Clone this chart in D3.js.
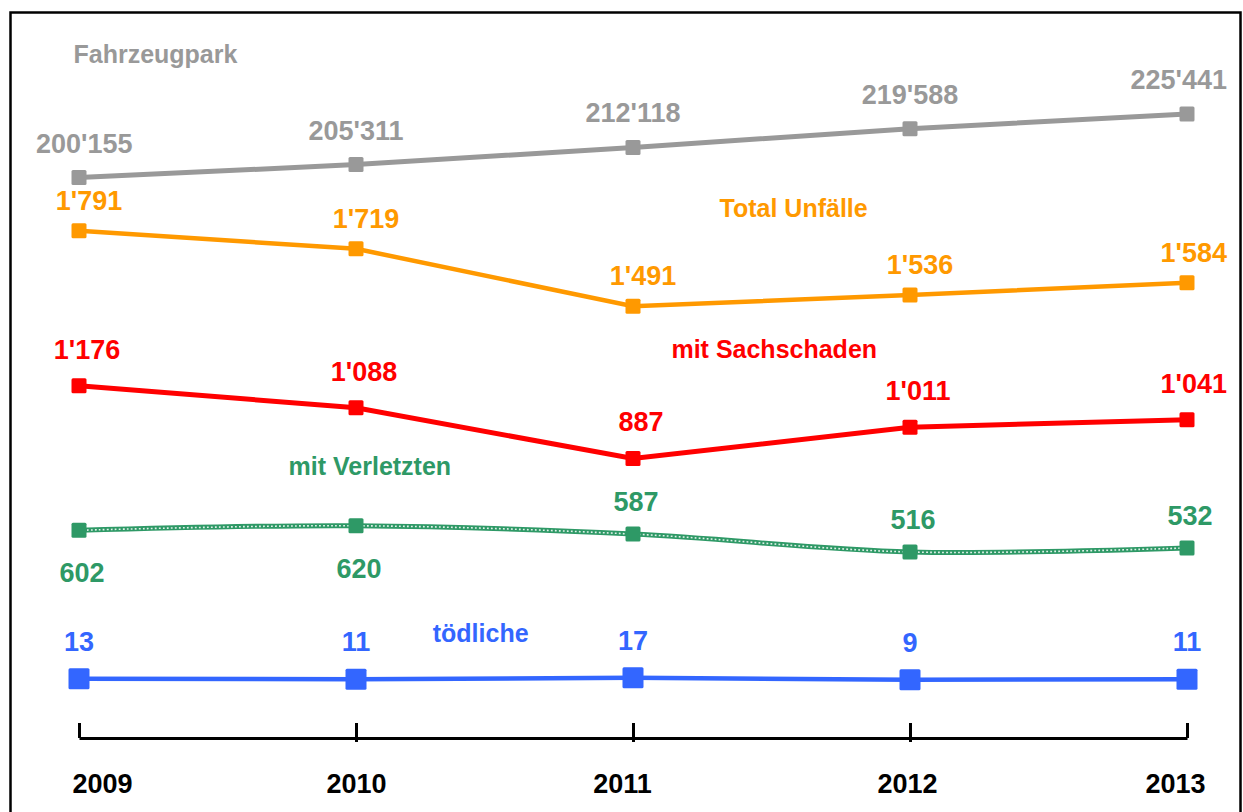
<!DOCTYPE html>
<html>
<head>
<meta charset="utf-8">
<script src="https://cdn.jsdelivr.net/npm/d3@7"></script>
<style>
  html, body { margin: 0; padding: 0; background: #fff; }
  text { font-family: "Liberation Sans", Arial, sans-serif; font-weight: bold; }
</style>
</head>
<body>
<div id="chart"></div>
<script>
// data
const years = [2009, 2010, 2011, 2012, 2013];
const fahrzeugpark = [200155, 205311, 212118, 219588, 225441];
const totalUnfaelle = [1791, 1719, 1491, 1536, 1584];
const sachschaden = [1176, 1088, 887, 1011, 1041];
const verletzte = [602, 620, 587, 516, 532];
const toedliche = [13, 11, 17, 9, 11];

let width = 1243, height = 812;

let svg = d3.select("#chart").append("svg")
    .attr("width", width)
    .attr("height", height);

// frame (bottom edge runs off the picture)
svg.append("rect")
    .attr("x", 10.5).attr("y", 12.5)
    .attr("width", 1230).attr("height", 830)
    .attr("fill", "#fff")
    .attr("stroke", "#000")
    .attr("stroke-width", 2.5);

let x = d3.scaleLinear().domain([2009, 2013]).range([79, 1187]);
let yAcc = d3.scaleLinear().domain([0, 2500]).range([682, 52]);     // accidents
let yCars = d3.scaleLinear().domain([0, 250000]).range([682, 52]);  // vehicle fleet (secondary)

let fmt = d3.formatLocale({ decimal: ".", thousands: "'", grouping: [3], currency: ["", ""] }).format(",d");

let series = [
    { name: "Fahrzeugpark", values: fahrzeugpark, y: yCars, color: "#999999", width: 5, marker: 15, dx: 0, dy: -25 },
    { name: "Total Unfälle", values: totalUnfaelle, y: yAcc, color: "#FF9900", width: 4.5, marker: 15, dx: 10, dy: -21 },
    { name: "mit Sachschaden", values: sachschaden, y: yAcc, color: "#FF0000", width: 5, marker: 15, dx: 8, dy: -27 },
    { name: "mit Verletzten", values: verletzte, y: yAcc, color: "#2E9966", width: 5, marker: 15, dx: 3, dy: -23, smooth: true, dotted: true },
    { name: "tödliche", values: toedliche, y: yAcc, color: "#3366FF", width: 4.5, marker: 21, dx: 0, dy: -28 }
];

// series name annotations (year position, value on the accident scale)
let names = [
    { text: "Fahrzeugpark", year: 2008.98, value: 2456, anchor: "start", color: "#999999" },
    { text: "Total Unfälle", year: 2011.58, value: 1845, anchor: "middle", color: "#FF9900" },
    { text: "mit Sachschaden", year: 2011.51, value: 1286, anchor: "middle", color: "#FF0000" },
    { text: "mit Verletzten", year: 2010.05, value: 821, anchor: "middle", color: "#2E9966" },
    { text: "tödliche", year: 2010.45, value: 159, anchor: "middle", color: "#3366FF" }
];

series.forEach(function(s) {
    let pts = years.map(function(yr, i) { return { year: yr, value: s.values[i], i: i }; });

    let line = d3.line()
        .x(function(d) { return x(d.year); })
        .y(function(d) { return s.y(d.value); })
        .curve(s.smooth ? d3.curveCardinal.tension(0) : d3.curveLinear);

    let g = svg.append("g");

    g.append("path")
        .datum(pts)
        .attr("d", line)
        .attr("fill", "none")
        .attr("stroke", s.color)
        .attr("stroke-width", s.width);

    if (s.dotted) {
        g.append("path")
            .datum(pts)
            .attr("d", line)
            .attr("fill", "none")
            .attr("stroke", "#fff")
            .attr("stroke-opacity", 0.85)
            .attr("stroke-width", 1.6)
            .attr("stroke-dasharray", "1.8 2.2");
    }

    g.selectAll("rect.marker")
        .data(pts)
        .enter().append("rect")
        .attr("class", "marker")
        .attr("x", function(d) { return x(d.year) - s.marker / 2; })
        .attr("y", function(d) { return s.y(d.value) - s.marker / 2; })
        .attr("width", s.marker)
        .attr("height", s.marker)
        .attr("rx", 1.5)
        .attr("fill", s.color);

    g.selectAll("text.val")
        .data(pts)
        .enter().append("text")
        .attr("class", "val")
        .attr("x", function(d) { return x(d.year) + s.dx; })
        .attr("y", function(d) {
            // first two "mit Verletzten" labels sit below the line
            if (s.dotted && d.i < 2) return s.y(d.value) + 52;
            return s.y(d.value) + s.dy;
        })
        .attr("text-anchor", "middle")
        .attr("fill", s.color)
        .style("font-size", "27px")
        .text(function(d) { return fmt(d.value); })
        .each(function() {
            // keep labels inside the frame
            let b = this.getBBox();
            let cx = +d3.select(this).attr("x");
            if (b.x < 36) d3.select(this).attr("x", cx + (36 - b.x));
            if (b.x + b.width > 1227) d3.select(this).attr("x", cx - (b.x + b.width - 1227));
        });
});

svg.selectAll("text.name")
    .data(names)
    .enter().append("text")
    .attr("class", "name")
    .attr("x", function(d) { return x(d.year); })
    .attr("y", function(d) { return yAcc(d.value); })
    .attr("text-anchor", function(d) { return d.anchor; })
    .attr("fill", function(d) { return d.color; })
    .style("font-size", "25px")
    .text(function(d) { return d.text; });

// x axis, below the plot
let labelNudge = [23, 0, -11, -3, -12];
let axis = svg.append("g")
    .attr("transform", "translate(0,738)")
    .call(d3.axisBottom(x)
        .tickValues(years)
        .tickFormat(d3.format("d"))
        .tickSizeInner(-15)
        .tickSizeOuter(0)
        .tickPadding(55));

axis.select(".domain").attr("stroke", "#000").attr("stroke-width", 3);
axis.selectAll(".tick line").attr("stroke", "#000").attr("stroke-width", 3)
    .attr("y2", function(d, i) { return (i > 0 && i < years.length - 1) ? 4 : 0; })
    .attr("y1", -15);
axis.selectAll(".tick text")
    .attr("fill", "#000")
    .attr("dy", 0)
    .attr("x", function(d, i) { return labelNudge[i]; })
    .style("font-size", "27px")
    .style("font-family", "'Liberation Sans', Arial, sans-serif")
    .style("font-weight", "bold");
</script>
</body>
</html>
